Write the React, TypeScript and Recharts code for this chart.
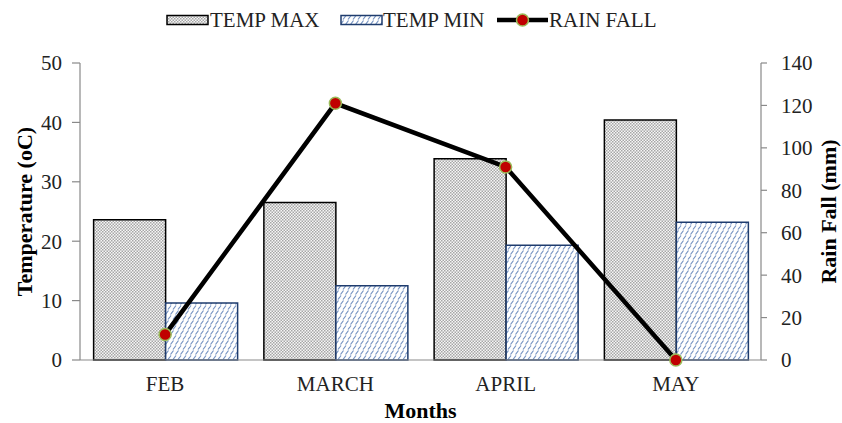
import React from 'react';
import { ComposedChart, Bar, Line, XAxis, YAxis } from 'recharts';

const months = ['FEB', 'MARCH', 'APRIL', 'MAY'];
const tempMax = [23.6, 26.5, 33.9, 40.4];
const tempMin = [9.6, 12.5, 19.3, 23.2];
const rainFall = [12, 121, 91, 0];
const tempTicks = [0, 10, 20, 30, 40, 50];
const rainTicks = [0, 20, 40, 60, 80, 100, 120, 140];

const data = months.map((m, i) => ({
  month: m,
  tmax: tempMax[i],
  tmin: tempMin[i],
  rain: rainFall[i],
}));

const FONT = '"Liberation Serif", "Times New Roman", serif';
const AXIS = '#898989';
const TXT = '#222';
const FS = 21;
const TITLE = { fontFamily: FONT, fontSize: 22, fontWeight: 'bold', fill: '#000', textAnchor: 'middle' } as any;

const Patterns = ({ suffix }: { suffix: string }) => (
  <defs>
    <pattern id={'pmax' + suffix} width="3" height="3" patternUnits="userSpaceOnUse">
      <rect x="0" y="0" width="3" height="3" fill="#f6f6f6" />
      <rect x="0" y="0" width="1.5" height="1.5" fill="#a6a6a6" />
      <rect x="1.5" y="1.5" width="1.5" height="1.5" fill="#a6a6a6" />
    </pattern>
    <pattern id={'pmin' + suffix} width="10" height="10" patternUnits="userSpaceOnUse">
      <rect x="0" y="0" width="10" height="10" fill="#ffffff" />
      <path d="M0.5,4.5 L3.5,0.5 M5.5,4.5 L8.5,0.5 M3,9.5 L6,5.5 M8,9.5 L10,6.8 M-2,9.5 L1,5.5" stroke="#7391c2" strokeWidth="1.2" fill="none" />
    </pattern>
  </defs>
);

const Legend = () => (
  <svg width={842} height={40} style={{ position: 'absolute', left: 0, top: 0 }}>
    <Patterns suffix="L" />
    <rect x={167} y={15.5} width={41} height={9} fill="url(#pmaxL)" stroke="#000" strokeWidth={1.5} />
    <text x={210} y={27} fontFamily={FONT} fontSize={FS} fill={TXT}>TEMP MAX</text>
    <rect x={341} y={15.5} width={41} height={9} fill="url(#pminL)" stroke="#1f3c6e" strokeWidth={1.5} />
    <text x={383} y={27} fontFamily={FONT} fontSize={FS} fill={TXT}>TEMP MIN</text>
    <line x1={497} y1={20} x2={548} y2={20} stroke="#000" strokeWidth={4.5} />
    <circle cx={522.5} cy={20} r={6} fill="#c00000" stroke="#9bbb59" strokeWidth={1.5} />
    <text x={549} y={27} fontFamily={FONT} fontSize={FS} fill={TXT}>RAIN FALL</text>
  </svg>
);

const RainDot = (props: any) => {
  const { cx, cy } = props;
  if (cx == null || cy == null) return null;
  return <circle cx={cx} cy={cy} r={6} fill="#c00000" stroke="#9bbb59" strokeWidth={1.5} />;
};

export default function App() {
  return (
    <div style={{ position: 'absolute', left: 0, top: 0, width: 842, height: 423, background: '#fff' }}>
      <ComposedChart
        width={842}
        height={423}
        data={data}
        margin={{ top: 63, right: 0, bottom: 0, left: 0 }}
        barCategoryGap="8%"
        barGap={0}
      >
        <Patterns suffix="C" />
        <XAxis
          dataKey="month"
          height={63}
          axisLine={{ stroke: AXIS, strokeWidth: 1.2 }}
          tickLine={false}
          tickSize={0}
          tickMargin={16}
          tick={{ fontFamily: FONT, fontSize: FS, fill: TXT }}
          label={{ value: 'Months', position: 'insideBottom', offset: 5, style: TITLE }}
        />
        <YAxis
          yAxisId="temp"
          orientation="left"
          width={80}
          domain={[0, 50]}
          ticks={tempTicks}
          interval={0}
          axisLine={{ stroke: AXIS, strokeWidth: 1.2 }}
          tickLine={{ stroke: AXIS, strokeWidth: 1.2 }}
          tickSize={8}
          tickMargin={10}
          tick={{ fontFamily: FONT, fontSize: FS, fill: TXT }}
          label={{ value: 'Temperature (oC)', angle: -90, position: 'insideLeft', offset: 24, style: TITLE }}
        />
        <YAxis
          yAxisId="rain"
          orientation="right"
          width={81}
          domain={[0, 140]}
          ticks={rainTicks}
          interval={0}
          axisLine={{ stroke: AXIS, strokeWidth: 1.2 }}
          tickLine={{ stroke: AXIS, strokeWidth: 1.2 }}
          tickSize={6}
          tickMargin={14}
          tick={{ fontFamily: FONT, fontSize: FS, fill: TXT }}
          label={{ value: 'Rain Fall (mm)', angle: -90, position: 'insideRight', offset: 14, style: TITLE }}
        />
        <Bar yAxisId="temp" dataKey="tmax" name="TEMP MAX" fill="url(#pmaxC)" stroke="#000" strokeWidth={1.5} isAnimationActive={false} />
        <Bar yAxisId="temp" dataKey="tmin" name="TEMP MIN" fill="url(#pminC)" stroke="#1f3c6e" strokeWidth={1.5} isAnimationActive={false} />
        <Line yAxisId="rain" dataKey="rain" name="RAIN FALL" type="linear" stroke="#000" strokeWidth={4.5} dot={<RainDot />} activeDot={false} isAnimationActive={false} />
      </ComposedChart>
      <Legend />
    </div>
  );
}
